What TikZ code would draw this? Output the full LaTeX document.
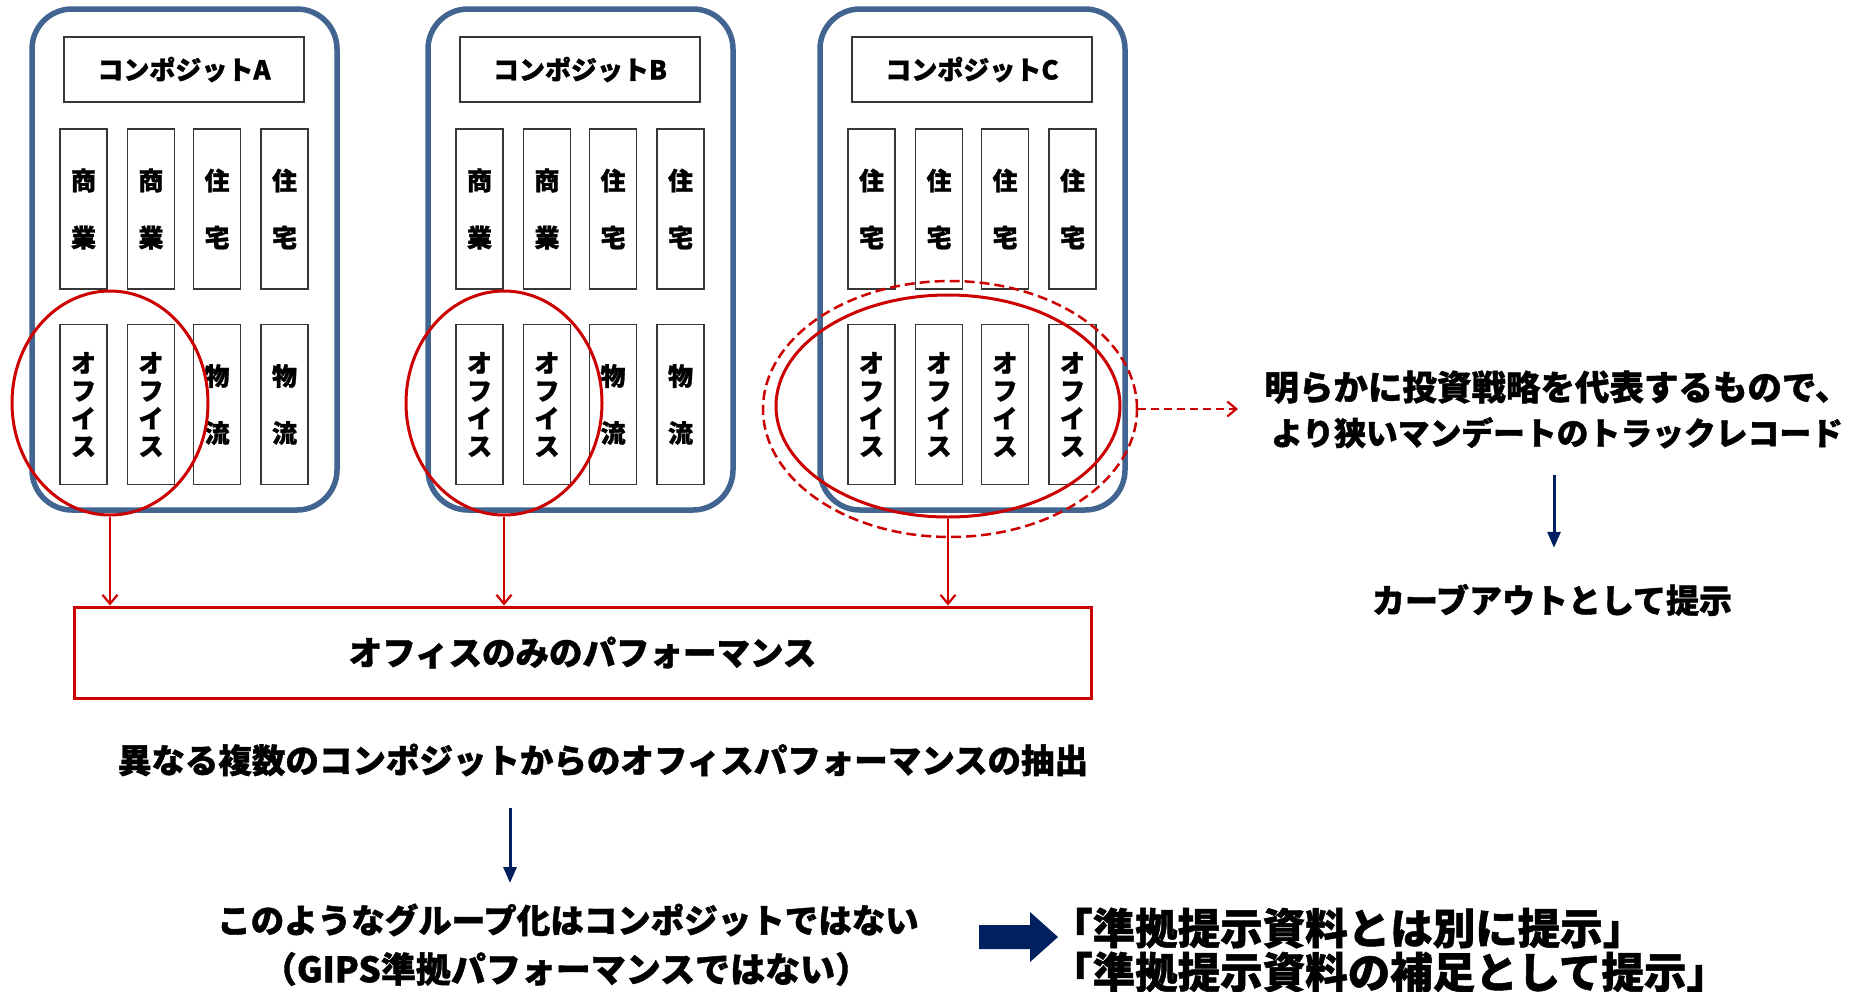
\documentclass[tikz,border=0pt]{standalone}
\usepackage{fontspec}
\setmainfont{Noto Sans CJK JP}[BoldFeatures={FakeBold=1.2}]
\usetikzlibrary{shapes.geometric,arrows.meta}
\definecolor{boxblue}{RGB}{65,100,145}
\definecolor{myred}{RGB}{204,0,0}
\definecolor{navy}{RGB}{0,32,96}
\definecolor{cellgray}{RGB}{55,55,55}
\begin{document}
\begin{tikzpicture}[x=1pt,y=-1pt,
  comp/.style={draw=boxblue, line width=5.5pt, rounded corners=40pt, minimum width=305pt, minimum height=501pt, inner sep=0pt},
  titlebox/.style={draw=cellgray, line width=1.8pt, minimum width=240pt, minimum height=65pt, inner sep=0pt, font=\fontsize{26}{26}\selectfont\bfseries},
  cell/.style={draw=cellgray, line width=1.8pt, minimum width=47pt, minimum height=160pt, inner sep=0pt, align=center},
  two/.style={cell, font=\fontsize{25}{57}\selectfont\bfseries},
  four/.style={cell, font=\fontsize{25}{27.7}\selectfont\bfseries},
  ring/.style={draw=myred, line width=3pt, ellipse, inner sep=0pt},
  rarrow/.style={draw=myred, line width=2.2pt, -{Straight Barb[length=9pt,width=15pt]}},
  barrow/.style={draw=navy, line width=3pt, -{Triangle[length=16pt,width=13pt]}},
  txt/.style={font=\fontsize{33.5}{45}\selectfont\bfseries, inner sep=0pt, align=center}
]
\useasboundingbox (0,0) rectangle (1854,991);

% composites
\node[comp] (A) at (184.5,259.5) {};
\node[comp] (B) at (580.5,259.5) {};
\node[comp] (C) at (972.5,259.5) {};
\node[titlebox] (At) at (184,69.5) {コンポジットA};
\node[titlebox] (Bt) at (580,69.5) {コンポジットB};
\node[titlebox] (Ct) at (972,69.5) {コンポジットC};

% cells A
\node[two] (A1) at (83.5,209) {商\\業};
\node[two] (A2) at (151,209) {商\\業};
\node[two] (A3) at (217,209) {住\\宅};
\node[two] (A4) at (284.5,209) {住\\宅};
\node[four] (A5) at (83.5,404.5) {オ\\フ\\イ\\ス};
\node[four] (A6) at (151,404.5) {オ\\フ\\イ\\ス};
\node[two] (A7) at (217,404.5) {物\\流};
\node[two] (A8) at (284.5,404.5) {物\\流};
% cells B
\node[two] (B1) at (479.5,209) {商\\業};
\node[two] (B2) at (547,209) {商\\業};
\node[two] (B3) at (613,209) {住\\宅};
\node[two] (B4) at (680.5,209) {住\\宅};
\node[four] (B5) at (479.5,404.5) {オ\\フ\\イ\\ス};
\node[four] (B6) at (547,404.5) {オ\\フ\\イ\\ス};
\node[two] (B7) at (613,404.5) {物\\流};
\node[two] (B8) at (680.5,404.5) {物\\流};
% cells C
\node[two] (C1) at (871.5,209) {住\\宅};
\node[two] (C2) at (939,209) {住\\宅};
\node[two] (C3) at (1005,209) {住\\宅};
\node[two] (C4) at (1072.5,209) {住\\宅};
\node[four] (C5) at (871.5,404.5) {オ\\フ\\イ\\ス};
\node[four] (C6) at (939,404.5) {オ\\フ\\イ\\ス};
\node[four] (C7) at (1005,404.5) {オ\\フ\\イ\\ス};
\node[four] (C8) at (1072.5,404.5) {オ\\フ\\イ\\ス};

% red rings
\node[ring, minimum width=196pt, minimum height=224pt] (eA) at (110,403) {};
\node[ring, minimum width=196pt, minimum height=224pt] (eB) at (504,403) {};
\node[ring, minimum width=344pt, minimum height=222pt] (eC) at (948,406) {};
\node[ring, line width=2.5pt, dash pattern=on 10pt off 5pt, minimum width=374pt, minimum height=256pt] (eD) at (950,409) {};

% office box
\node[draw=myred, line width=3pt, minimum width=1017pt, minimum height=91pt, txt] (off) at (582.5,652.5) {オフィスのみのパフォーマンス};

\draw[rarrow] (eA.south) -- (eA.south |- off.north);
\draw[rarrow] (eB.south) -- (eB.south |- off.north);
\draw[rarrow] (eC.south) -- (eC.south |- off.north);

% right side
\node[txt, font=\fontsize{34.5}{45}\selectfont\bfseries] (rt) at (1557,409.5) {明らかに投資戦略を代表するもので、\\{\fontsize{31.8}{45}\selectfont より狭いマンデートのトラックレコード}};
\coordinate (dtip) at (1238,409);
\draw[rarrow, dash pattern=on 8pt off 5pt] (eD.east) -- (dtip);
\node[txt, font=\fontsize{33}{40}\selectfont\bfseries] (cv) at (1552,600) {カーブアウトとして提示};
\draw[barrow] ([xshift=-3pt,yshift=-26pt]rt.south) -- ([xshift=2pt,yshift=36pt]cv.north);

% lower part
\node[txt] (t1) at (603,760) {異なる複数のコンポジットからのオフィスパフォーマンスの抽出};
\coordinate (a1) at (510,808);
\coordinate (a2) at (510,883);
\draw[barrow] (a1) -- (a2);
\node[txt] (t2) at (568,920) {このようなグループ化はコンポジットではない};
\node[txt, font=\fontsize{35}{45}\selectfont\bfseries] (t3) at (566,969) {（GIPS準拠パフォーマンスではない）};

\fill[navy] (979,925) -- (1030,925) -- (1030,912) -- (1058,937) -- (1030,962) -- (1030,949) -- (979,949) -- cycle;

\node[txt, anchor=west, align=left, font=\fontsize{42.5}{44}\selectfont\bfseries] (t4) at (1050,950) {「準拠提示資料とは別に提示」\\「準拠提示資料の補足として提示」};
\end{tikzpicture}
\end{document}
